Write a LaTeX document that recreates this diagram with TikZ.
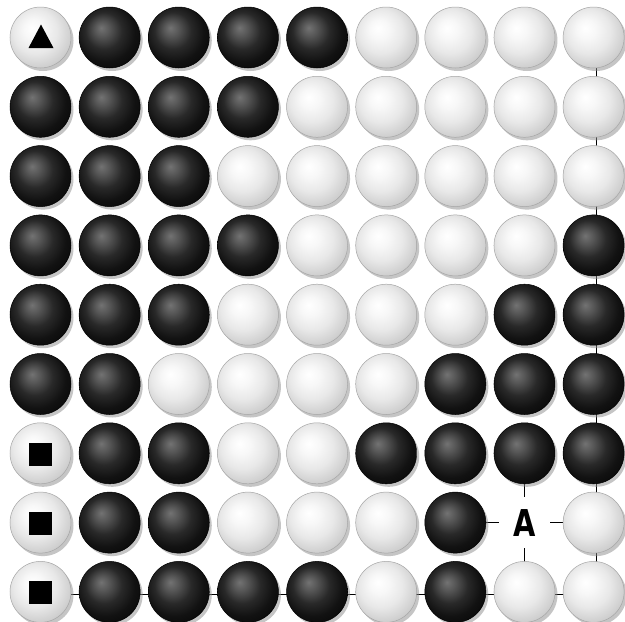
\documentclass[tikz,border=0pt]{standalone}
\usepackage{fontspec}
\usepackage{graphicx}
\usetikzlibrary{shadows}
\newfontfamily\labfont{DejaVu Sans}
\pgfdeclareradialshading{bshade}{\pgfpoint{-7bp}{8bp}}{%
  color(0bp)=(black!55); color(6bp)=(black!66); color(15bp)=(black!84);
  color(24bp)=(black!93); color(33bp)=(black!97); color(38bp)=(black!82); color(50bp)=(black!78)}
\pgfdeclareradialshading{wshade}{\pgfpoint{-7bp}{8bp}}{%
  color(0bp)=(white); color(8bp)=(black!3); color(18bp)=(black!9);
  color(28bp)=(black!19); color(36bp)=(black!32); color(50bp)=(black!38)}
\tikzset{
  stonebase/.style={circle, inner sep=0pt, minimum size=61pt, line width=0.5pt,
    drop shadow={shadow xshift=2.5pt, shadow yshift=-3pt, fill=black!45, opacity=0.5}},
  bstone/.style={stonebase, shading=bshade, draw=black},
  wstone/.style={stonebase, shading=wshade, draw=black!35},
  gridline/.style={line width=1.2pt, black},
  markfill/.style={fill=black},
  pointlabel/.style={fill=white, inner sep=0pt, minimum size=51pt,
    font=\labfont\bfseries\fontsize{37}{40}\selectfont}
}
\begin{document}
\begin{tikzpicture}[x=1pt, y=-1pt]
\fill[white] (0,0) rectangle (625,622);
\useasboundingbox (0,0) rectangle (625,622);
% grid points
\foreach \i in {1,...,9} {
  \foreach \j in {1,...,9} {
    \coordinate (p-\i-\j) at ({40.5+69.14*(\i-1)},{37.5+69.3*(\j-1)});
  }
}
% visible grid lines: board edges and the lines through the empty point
\draw[gridline] ([yshift=-2.3pt]p-1-9) -- ([yshift=-2.3pt]p-9-9);
\draw[gridline] ([xshift=3pt]p-9-1) -- ([xshift=3pt]p-9-9);
\draw[gridline] (p-8-7) -- (p-8-9);
\draw[gridline] (p-7-8) -- (p-9-8);
% label A on empty point
\node[pointlabel] (A) at (p-8-8) {\scalebox{0.78}[1]{A}};
% stones
\foreach \row [count=\j] in {
  {T,B,B,B,B,W,W,W,W},
  {B,B,B,B,W,W,W,W,W},
  {B,B,B,W,W,W,W,W,W},
  {B,B,B,B,W,W,W,W,B},
  {B,B,B,W,W,W,W,B,B},
  {B,B,W,W,W,W,B,B,B},
  {Q,B,B,W,W,B,B,B,B},
  {Q,B,B,W,W,W,B,E,W},
  {Q,B,B,B,B,W,B,W,W}} {
  \foreach \s [count=\i] in \row {
    \if\s B \node[bstone] (s\i-\j) at (p-\i-\j) {}; \fi
    \if\s W \node[wstone] (s\i-\j) at (p-\i-\j) {}; \fi
    \if\s T \node[wstone] (s\i-\j) at (p-\i-\j) {};
      \fill[markfill] ([shift={(0.5,-13)}]s\i-\j.center) -- ([shift={(13,10.5)}]s\i-\j.center) -- ([shift={(-12,10.5)}]s\i-\j.center) -- cycle; \fi
    \if\s Q \node[wstone] (s\i-\j) at (p-\i-\j) {};
      \fill[markfill] ([shift={(-11.5,-10.5)}]s\i-\j.center) rectangle ([shift={(11.5,12.5)}]s\i-\j.center); \fi
  }
}
\end{tikzpicture}
\end{document}
